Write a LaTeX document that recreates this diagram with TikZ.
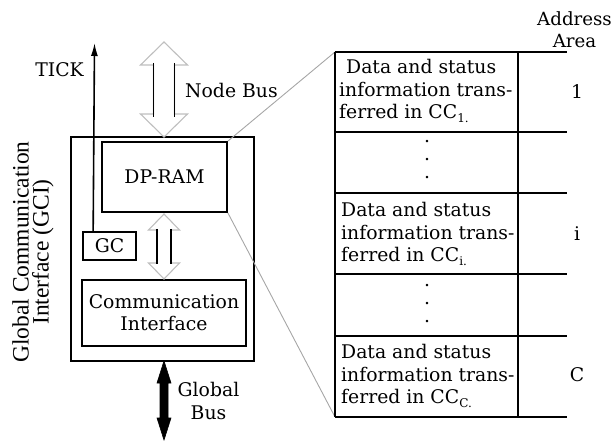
\documentclass[tikz,border=0pt]{standalone}
\usepackage{fontspec}
\setmainfont{DejaVu Serif}
\newfontfamily\sidefont{Liberation Serif}
\usetikzlibrary{arrows.meta,calc}

% outline of a two-headed bus arrow between two coordinates:
% #1 upper tip, #2 lower tip, #3 head half width, #4 shaft half width, #5 head length
\newcommand\busshape[5]{(#1) -- ($(#1)+(#3,#5)$) -- ($(#1)+(#4,#5)$) -- ($(#2)+(#4,-#5)$)
  -- ($(#2)+(#3,-#5)$) -- (#2) -- ($(#2)+(-#3,-#5)$) -- ($(#2)+(-#4,-#5)$)
  -- ($(#1)+(-#4,#5)$) -- ($(#1)+(-#3,#5)$) -- cycle}
\newcommand\ccsub[1]{CC\raisebox{-0.4ex}{\fontsize{12}{12}\selectfont #1.}}

\begin{document}
\begin{tikzpicture}[x=1pt,y=-1pt,
  txt/.style={inner sep=0pt,font=\fontsize{18.8}{23}\selectfont},
  box/.style={draw,line width=1.7pt,inner sep=0pt},
  busoutline/.style={draw=black!25,line width=1.1pt,fill=white},
  busside/.style={line width=1.8pt},
  busfill/.style={fill=black,draw=black,line width=0.6pt},
  zoomline/.style={draw=black!35,line width=0.9pt},
  gridline/.style={line width=2pt},
  cell/.style={inner sep=0pt,anchor=west,align=left,font=\fontsize{18.8}{22.5}\selectfont},
  dotcol/.style={inner sep=0pt,align=center,font=\fontsize{18.8}{18}\selectfont}]
\useasboundingbox (0,0) rectangle (612,443);

% ---- Global Communication Interface ----
\node[box,minimum width=183pt,minimum height=224pt] (gci) at (162.5,249) {};
\node[box,txt,minimum width=125pt,minimum height=70pt] (dpram) at (164.5,177) {DP-RAM};
\node[box,txt,minimum width=53pt,minimum height=28pt] (gc) at (109.5,246) {GC};
\node[box,txt,align=center,minimum width=164pt,minimum height=66pt] (ci) at (164,313)
  {Communication\\[-1pt]Interface};
\node[inner sep=0pt,rotate=90,align=center,font=\sidefont\fontsize{23.5}{20}\selectfont]
  (gcilabel) at (33,252) {Global Communication\\Interface (GCI)};

% TICK output of the global clock
\coordinate (tickend) at (94.5,43);
\draw[line width=1.6pt,-{Latex[length=13pt,width=7pt]}] ([xshift=11pt]gc.north west) -- (tickend);
\node[txt] (tick) at (59.5,70) {TICK};

% Node Bus
\coordinate (nbtop) at (164,42);
\coordinate (nbbot) at (164,137);
\draw[busoutline] \busshape{nbtop}{nbbot}{23.5}{10.5}{23};
\draw[busside] ($(nbtop)+(-10.5,21)$) -- ($(nbbot)+(-10.5,-20)$);
\draw[busside] ($(nbtop)+(10.5,21)$) -- ($(nbbot)+(10.5,-20)$);
\node[txt,anchor=west] (nodebus) at (185,90) {Node Bus};

% internal bus DP-RAM <-> Communication Interface
\coordinate (ibtop) at (164,214);
\coordinate (ibbot) at (164,279);
\draw[busoutline] \busshape{ibtop}{ibbot}{15.5}{7}{16};
\draw[busside] ($(ibtop)+(-7,15)$) -- ($(ibbot)+(-7,-15)$);
\draw[busside] ($(ibtop)+(7,15)$) -- ($(ibbot)+(7,-15)$);

% Global Bus
\coordinate (gbtop) at (164,361);
\coordinate (gbbot) at (164,440);
\draw[busfill] \busshape{gbtop}{gbbot}{7}{4}{22};
\node[txt,align=center] (globalbus) at (208.5,401) {Global\\Bus};

% ---- memory map of the DP-RAM ----
\coordinate (tl) at (335,52);
\coordinate (bl) at (335,417);
\draw[zoomline] (dpram.north east) -- (tl);
\draw[zoomline] (dpram.south east) -- (bl);

\draw[gridline] (tl) -- (bl);
\draw[gridline] (518,52) -- (518,417);
\foreach \yy in {52,132,193,274,336,417}
  \draw[gridline] (335,\yy) -- (567,\yy);

\node[cell] (row1) at (339,91) {\hspace{7pt}Data and status\\information trans-\\ferred in \ccsub{1}};
\node[dotcol] (dots1) at (427,160) {.\\.\\.};
\node[cell] (rowi) at (341,234) {Data and status\\information trans-\\ferred in \ccsub{i}};
\node[dotcol] (dots2) at (427,304) {.\\.\\.};
\node[cell] (rowc) at (341,376) {Data and status\\information trans-\\ferred in \ccsub{C}};

\node[txt,align=center,font=\fontsize{18.2}{22}\selectfont] (addr) at (574.5,30) {Address\\Area};
\node[txt] (a1) at (577,92) {1};
\node[txt] (ai) at (577,234) {i};
\node[txt] (ac) at (577,375) {C};
\end{tikzpicture}
\end{document}
